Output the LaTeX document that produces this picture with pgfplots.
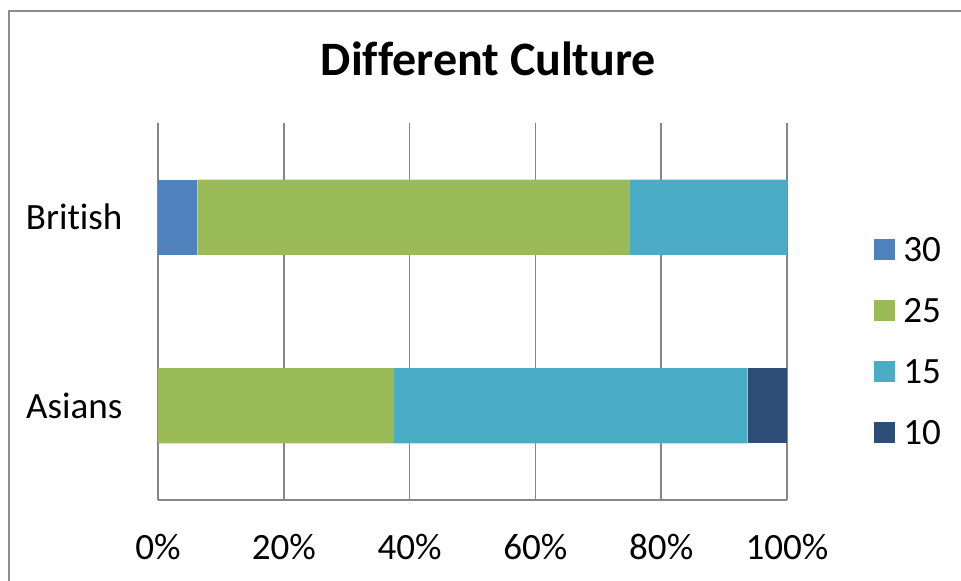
\documentclass[border=0pt]{standalone}
\usepackage{pgfplots}
\pgfplotsset{compat=1.18}
\usepackage{fontspec}
\setmainfont{Carlito}[Ligatures=NoCommon]

\definecolor{s30}{HTML}{4F81BD}
\definecolor{s25}{HTML}{9BBB59}
\definecolor{s15}{HTML}{4BACC6}
\definecolor{s10}{HTML}{2C4D75}
\definecolor{gridgray}{HTML}{868686}
\definecolor{framegray}{HTML}{8C8C8C}

\begin{document}
\begin{tikzpicture}
% canvas of 720.75pt x 435.75pt, origin bottom-left
\useasboundingbox (0,0) rectangle (720.75pt,435.75pt);
\draw[framegray, line width=0.9pt] (6.75pt,0) |- (720.75pt,427.5pt);
\node[anchor=base, font=\bfseries\fontsize{36}{43}\selectfont] at (366.4pt,378.75pt) {Different Culture};
\begin{axis}[
  at={(118.5pt,60.75pt)}, anchor=south west,
  width=471.75pt, height=282.75pt, scale only axis,
  xbar stacked, bar width=0.4,
  xmin=0, xmax=100, ymin=-0.5, ymax=1.5,
  ytick={0,1}, yticklabels={Asians,British},
  xtick={0,20,...,100},
  xticklabel={\pgfmathprintnumber{\tick}\%},
  /pgf/number format/assume math mode=true,
  axis x line*=bottom, axis y line*=left,
  axis line style={draw=gridgray, line width=1.2pt, -},
  xmajorgrids, grid style={gridgray, line width=1.2pt},
  major tick length=0pt,
  tick label style={font=\fontsize{27.8}{33}\selectfont},
  xticklabel style={anchor=base, inner sep=0pt, yshift=-45pt},
  yticklabel style={anchor=east, inner sep=0pt, xshift=-26.5pt},
  legend style={
    at={(1.1383,0.6955)}, anchor=north west,
    draw=none, fill=none, inner sep=0pt,
    row sep=28.5pt, column sep=6pt,
    font=\fontsize{27.8}{33}\selectfont,
    nodes={inner sep=0pt, text height=17.25pt, text depth=0pt},
    cells={anchor=base west},
  },
  legend image code/.code={\fill (0pt,0.6pt) rectangle (15.75pt,16.35pt);},
]
% shares of each group, in percent
\addplot[fill=s30, draw=none] coordinates {(0,0) (6.25,1)};
\addplot[fill=s25, draw=none] coordinates {(37.5,0) (68.75,1)};
\addplot[fill=s15, draw=none] coordinates {(56.25,0) (25,1)};
\addplot[fill=s10, draw=none] coordinates {(6.25,0) (0,1)};
\legend{30,25,15,10}
\end{axis}
\end{tikzpicture}
\end{document}
